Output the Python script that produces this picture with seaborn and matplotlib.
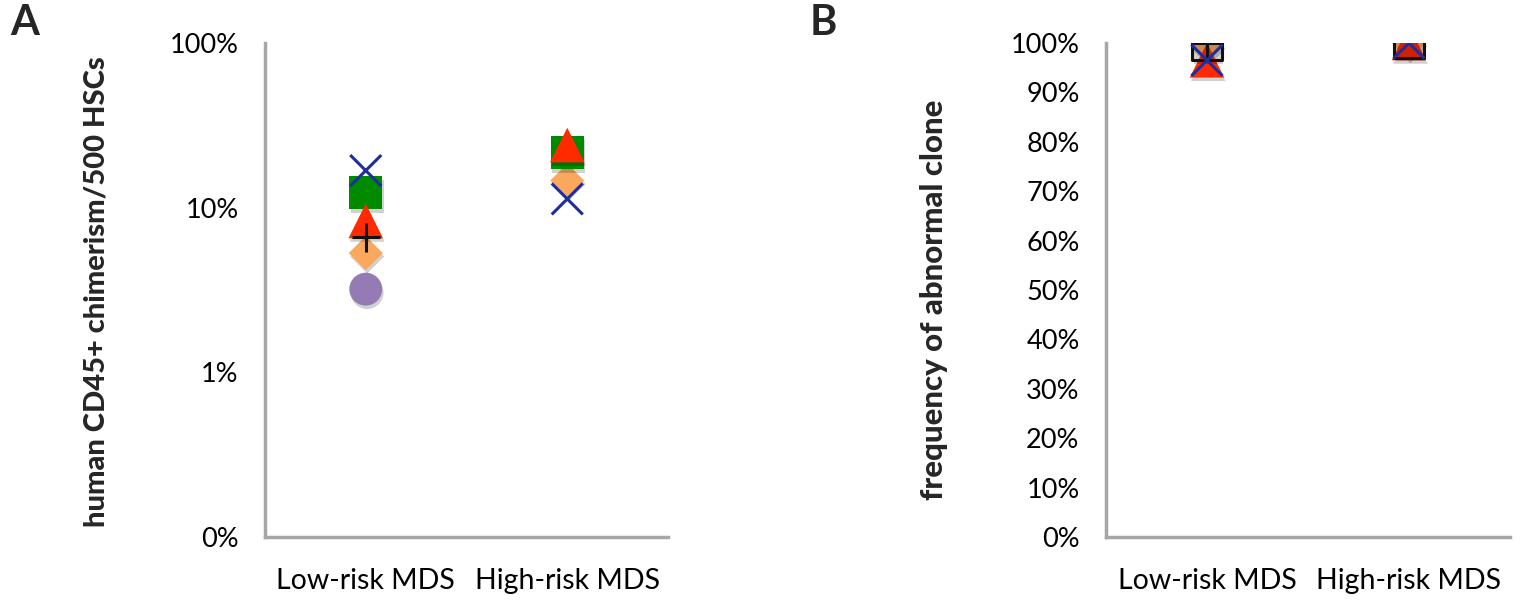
import numpy as np
import pandas as pd
import matplotlib
matplotlib.use("Agg")
import matplotlib.pyplot as plt
import matplotlib.patheffects as pe
from matplotlib.ticker import FixedLocator, NullFormatter
import seaborn as sns

sns.set_theme(style="white")
plt.rcParams['font.family'] = ['Lato', 'DejaVu Sans']

categories = ["Low-risk MDS", "High-risk MDS"]

# Panel A: human CD45+ chimerism / 500 HSCs (fraction), NaN = absent
chim_x        = [0.168, 0.113]
chim_square   = [0.123, 0.215]
chim_triangle = [0.083, 0.240]
chim_plus     = [0.066, np.nan]
chim_diamond  = [0.053, 0.146]
chim_circle   = [0.032, np.nan]

# Panel B: frequency of abnormal clone (fraction)
clone_diamond  = [0.995, 1.0]
clone_triangle = [0.965, 1.0]
clone_square   = [0.995, 1.0]
clone_plus     = [1.0, np.nan]
clone_x        = [0.965, 1.0]

yticks_a = [0.001, 0.01, 0.1, 1.0]
yticklabels_a = ["0%", "1%", "10%", "100%"]
yticks_b = [i / 10 for i in range(11)]
yticklabels_b = [f"{i * 10}%" for i in range(11)]

BLUE = "#1f2e9e"
GREEN = "#008a00"
RED = "#ff2a00"
ORANGE = "#f9a85e"
PURPLE = "#957bb4"
BLACK = "#111111"
AXIS = "#a6a6a6"

shadow = [pe.SimplePatchShadow(offset=(1.0, -2.5), alpha=0.18, shadow_rgbFace="#000000"), pe.Normal()]

fig = plt.figure(figsize=(15.32, 6.0), dpi=100)
axA = fig.add_axes([265 / 1532, 63 / 600, 403 / 1532, 494 / 600])
axB = fig.add_axes([1106 / 1532, 63 / 600, 404 / 1532, 494 / 600])


def draw(ax, values, marker, color, size, fill=True, lw=0.0):
    df = pd.DataFrame({"cat": categories, "val": values}).dropna()
    if marker in ("x", "+"):
        kw = dict(color=color, linewidth=lw)
    elif fill:
        kw = dict(color=color, edgecolor=color, linewidth=lw)
    else:
        kw = dict(facecolor="none", edgecolor=color, linewidth=lw)
    sns.scatterplot(data=df, x="cat", y="val", marker=marker, s=size, ax=ax,
                    legend=False, zorder=3, **kw)
    ax.collections[-1].set_path_effects(shadow)


# Panel A
draw(axA, chim_circle, "o", PURPLE, 560)
draw(axA, chim_diamond, "D", ORANGE, 300)
draw(axA, chim_square, "s", GREEN, 560)
draw(axA, chim_triangle, "^", RED, 620)
draw(axA, chim_plus, "+", BLACK, 420, lw=2.2)
draw(axA, chim_x, "x", BLUE, 500, lw=2.2)

# Panel B
draw(axB, clone_diamond, "D", ORANGE, 300)
draw(axB, clone_triangle, "^", RED, 620)
draw(axB, clone_square, "s", BLACK, 440, fill=False, lw=2.2)
draw(axB, clone_plus, "+", BLACK, 480, lw=2.2)
draw(axB, clone_x, "x", BLUE, 500, lw=2.2)

for ax in (axA, axB):
    ax.set_xlim(-0.5, 1.5)
    ax.set_xticks([0, 1])
    ax.set_xticklabels(categories, fontsize=20.5)
    ax.xaxis.set_minor_locator(FixedLocator([-0.5, 0.5, 1.5]))
    ax.xaxis.set_minor_formatter(NullFormatter())
    ax.tick_params(axis="x", which="major", length=0, pad=22, colors="black")
    ax.tick_params(axis="x", which="minor", length=9, width=2.5, color=AXIS, direction="out")
    ax.tick_params(axis="y", which="major", length=9, width=2.5, color=AXIS, direction="out",
                   pad=10, labelcolor="black")
    for side in ("top", "right"):
        ax.spines[side].set_visible(False)
    for side in ("left", "bottom"):
        ax.spines[side].set_color(AXIS)
        ax.spines[side].set_linewidth(2.5)
    ax.set_xlabel("")
    ax.grid(False)

axA.set_yscale("log")
axA.set_ylim(0.001, 1.0)
axA.yaxis.set_major_locator(FixedLocator(yticks_a))
axA.set_yticklabels(yticklabels_a)
axA.yaxis.set_minor_locator(FixedLocator([]))
axA.set_ylabel("human CD45+ chimerism/500 HSCs", fontsize=21, fontweight="black")
axA.yaxis.set_label_coords((110 - 265) / 403, (537 - 292) / 494)

axB.set_ylim(0, 1.0)
axB.yaxis.set_major_locator(FixedLocator(yticks_b))
axB.set_yticklabels(yticklabels_b)
axB.set_ylabel("frequency of abnormal clone", fontsize=22.5, fontweight="black")
axB.yaxis.set_label_coords((948 - 1106) / 404, (537 - 300) / 494)

for ax in (axA, axB):
    for lab in ax.get_yticklabels():
        lab.set_fontsize(19.5)

fig.text(10 / 1532, 1 - 23 / 600, "A", fontsize=30, fontweight="bold", va="center", ha="left")
fig.text(810 / 1532, 1 - 23 / 600, "B", fontsize=30, fontweight="bold", va="center", ha="left")

fig.savefig("out.png", dpi=100, facecolor="white")
